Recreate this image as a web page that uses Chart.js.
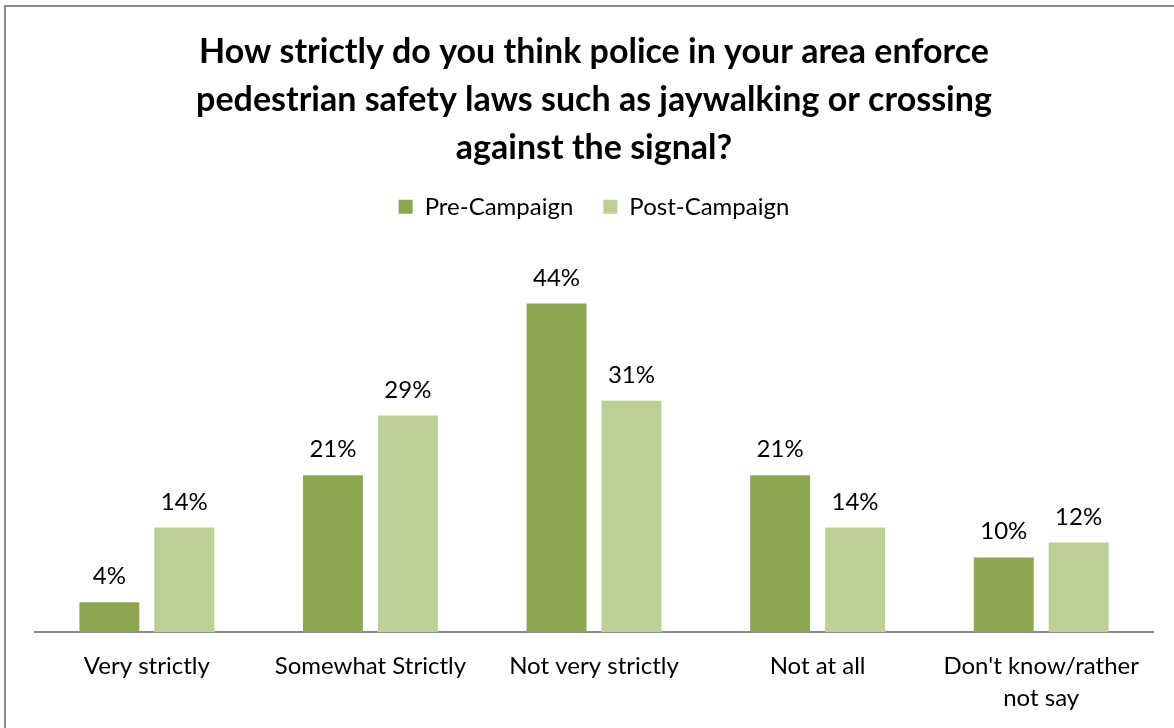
<!DOCTYPE html>
<html>
<head>
<meta charset="utf-8">
<script src="https://cdn.jsdelivr.net/npm/chart.js@4"></script>
<style>
  html, body { margin: 0; padding: 0; background: #fff; }
  #wrap { width: 1174px; height: 728px; position: relative; }
</style>
</head>
<body>
<div id="wrap"><canvas id="enforceChart" width="1174" height="728"></canvas></div>
<script>
// 응답 항목 / 값 (%)
const categories = ['Very strictly', 'Somewhat Strictly', 'Not very strictly', 'Not at all', ["Don't know/rather", 'not say']];
const preCampaign = [4, 21, 44, 21, 10];
const postCampaign = [14, 29, 31, 14, 12];
const titleLines = [
  'How strictly do you think police in your area enforce',
  'pedestrian safety laws such as jaywalking or crossing',
  'against the signal?'
];

const FONT = 'Lato, "Open Sans", sans-serif';

// 막대 위에 % 표시
const valueLabels = {
  id: 'valueLabels',
  afterDatasetsDraw(chart) {
    const ctx = chart.ctx;
    ctx.save();
    ctx.font = '24px ' + FONT;
    ctx.fillStyle = '#000';
    ctx.textAlign = 'center';
    ctx.textBaseline = 'alphabetic';
    chart.data.datasets.forEach((ds, i) => {
      chart.getDatasetMeta(i).data.forEach((bar, j) => {
        ctx.fillText(ds.data[j] + '%', bar.x, bar.y - 18);
      });
    });
    ctx.restore();
  }
};

// 바깥 테두리
const frame = {
  id: 'frame',
  beforeDraw(chart) {
    const ctx = chart.ctx;
    ctx.save();
    ctx.strokeStyle = '#8a8a8a';
    ctx.lineWidth = 2;
    ctx.strokeRect(5, 6, 1300, 900);
    ctx.restore();
  }
};

// 범례 아래 여백 늘리기
const legendGap = {
  id: 'legendGap',
  beforeInit(chart) {
    const fit = chart.legend.fit;
    chart.legend.fit = function () {
      fit.bind(chart.legend)();
      this.height += 30;
    };
  }
};

new Chart(document.getElementById('enforceChart'), {
  type: 'bar',
  data: {
    labels: categories,
    datasets: [{
      label: 'Pre-Campaign',
      data: preCampaign,
      backgroundColor: '#8ba752',
      categoryPercentage: 0.67,
      barPercentage: 0.8
    }, {
      label: 'Post-Campaign',
      data: postCampaign,
      backgroundColor: '#bcd096',
      categoryPercentage: 0.67,
      barPercentage: 0.8
    }]
  },
  options: {
    responsive: false,
    animation: false,
    layout: { padding: { left: 35, right: 21, top: 0, bottom: 4 } },
    plugins: {
      title: {
        display: true,
        text: titleLines,
        color: '#000',
        font: { family: FONT, size: 34, weight: 'bold', lineHeight: 1.41 },
        padding: { top: 28, bottom: -7 }
      },
      legend: {
        position: 'top',
        labels: {
          color: '#000',
          font: { family: FONT, size: 24 },
          boxWidth: 14,
          boxHeight: 14,
          padding: 30
        }
      },
      tooltip: { enabled: false }
    },
    scales: {
      x: {
        grid: { display: false },
        border: { display: true, color: '#8a8a8a', width: 2 },
        ticks: { color: '#000', font: { family: FONT, size: 24, lineHeight: 1.33 }, padding: 10, maxRotation: 0 }
      },
      y: {
        display: false,
        min: 0,
        max: 50
      }
    }
  },
  plugins: [frame, legendGap, valueLabels]
});
</script>
</body>
</html>
